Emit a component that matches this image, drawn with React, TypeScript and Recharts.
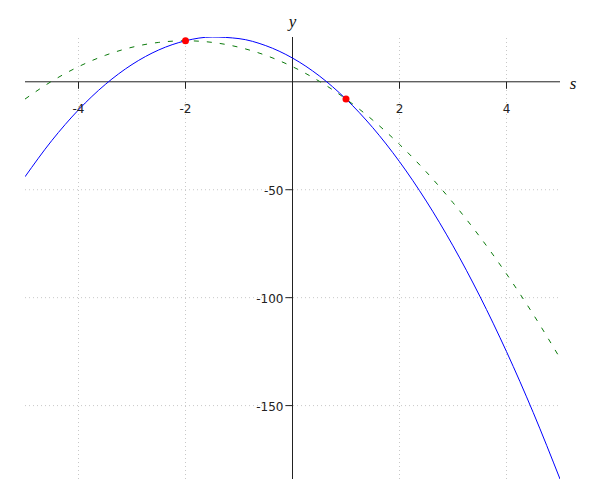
import React from "react";
import {
  ComposedChart,
  Line,
  Scatter,
  XAxis,
  YAxis,
  ReferenceLine,
  ReferenceDot,
} from "recharts";

const sValues = [-5, -4.5, -4, -3.5, -3, -2.5, -2, -1.5, -1, -0.5, 0, 0.5, 1, 1.5, 2, 2.5, 3, 3.5, 4, 4.5, 5];
const blueValues = [-44, -27.25, -13, -1.25, 8, 14.75, 19, 20.75, 20, 16.75, 11, 2.75, -8, -21.25, -37, -55.25, -76, -99.25, -125, -153.25, -184];
const greenValues = [-8, 0.25, 7, 12.25, 16, 18.25, 19, 18.25, 16, 12.25, 7, 0.25, -8, -17.75, -29, -41.75, -56, -71.75, -89, -107.75, -128];
const redPoints = [
  { s: -2, y: 19 },
  { s: 1, y: -8 },
];
const xTicks = [-4, -2, 2, 4];
const yTicks = [-150, -100, -50];
const xDomain: [number, number] = [-5, 5];
const yDomain: [number, number] = [-184, 20.75];

const data = sValues.map((s, i) => ({ s, blue: blueValues[i], green: greenValues[i] }));

const AXIS = "#222";
const FONT = "DejaVu Sans, sans-serif";
const GRID = "#c8c8c8";

const makeXTick = (label: string) => (props: any) => {
  const { cx, cy } = props;
  return (
    <g>
      <line x1={cx} y1={cy} x2={cx} y2={cy + 7} stroke={AXIS} strokeWidth={1} />
      <text x={cx} y={cy + 31} textAnchor="middle" fontSize={12} fontFamily={FONT} fill="#222">
        {label}
      </text>
    </g>
  );
};

const makeYTick = (label: string) => (props: any) => {
  const { cx, cy } = props;
  return (
    <g>
      <line x1={cx} y1={cy} x2={cx - 7} y2={cy} stroke={AXIS} strokeWidth={1} />
      <text x={cx - 9} y={cy + 5} textAnchor="end" fontSize={12} fontFamily={FONT} fill="#222">
        {label}
      </text>
    </g>
  );
};

const YLabel = (props: any) => {
  const { cx, cy } = props;
  return (
    <text x={cx} y={cy - 10} textAnchor="middle" fontSize={17} fontStyle="italic" fontFamily="Liberation Serif, serif" fill="#111">
      y
    </text>
  );
};

const SLabel = (props: any) => {
  const { cx, cy } = props;
  return (
    <text x={cx + 13} y={cy + 7} textAnchor="middle" fontSize={17} fontStyle="italic" fontFamily="Liberation Serif, serif" fill="#111">
      s
    </text>
  );
};

export default function App() {
  return (
    <div style={{ position: "absolute", left: 0, top: 0, width: 600, height: 500, background: "#fff" }}>
      <ComposedChart width={600} height={500} data={data} margin={{ top: 37, right: 40, bottom: 21, left: 25 }}>
        <XAxis dataKey="s" type="number" domain={xDomain} ticks={[-4, -2, 0, 2, 4]} hide allowDataOverflow />
        <YAxis type="number" domain={yDomain} ticks={[-150, -100, -50, 0]} hide allowDataOverflow />
        {xTicks.map((t) => (
          <ReferenceLine key={"gx" + t} x={t} stroke={GRID} strokeDasharray="1 3" />
        ))}
        {yTicks.map((t) => (
          <ReferenceLine key={"gy" + t} y={t} stroke={GRID} strokeDasharray="1 3" />
        ))}
        <ReferenceLine x={0} stroke={AXIS} strokeWidth={1} />
        <ReferenceLine y={0} stroke={AXIS} strokeWidth={1} />
        {xTicks.map((t) => (
          <ReferenceDot key={"x" + t} x={t} y={0} shape={makeXTick(String(t))} />
        ))}
        {yTicks.map((t) => (
          <ReferenceDot key={"y" + t} x={0} y={t} shape={makeYTick(String(t))} />
        ))}
        <ReferenceDot x={0} y={yDomain[1]} shape={YLabel} ifOverflow="visible" />
        <ReferenceDot x={xDomain[1]} y={0} shape={SLabel} ifOverflow="visible" />
        <Line
          type="monotone"
          dataKey="green"
          stroke="#0a7a0a"
          strokeWidth={1}
          strokeDasharray="5 8"
          dot={false}
          activeDot={false}
          isAnimationActive={false}
        />
        <Line
          type="monotone"
          dataKey="blue"
          stroke="#0000ff"
          strokeWidth={1}
          dot={false}
          activeDot={false}
          isAnimationActive={false}
        />
        <Scatter data={redPoints} dataKey="y" fill="#ff0000" isAnimationActive={false} shape={(p: any) => <circle cx={p.cx} cy={p.cy} r={3.5} fill="#ff0000" />} />
      </ComposedChart>
    </div>
  );
}
